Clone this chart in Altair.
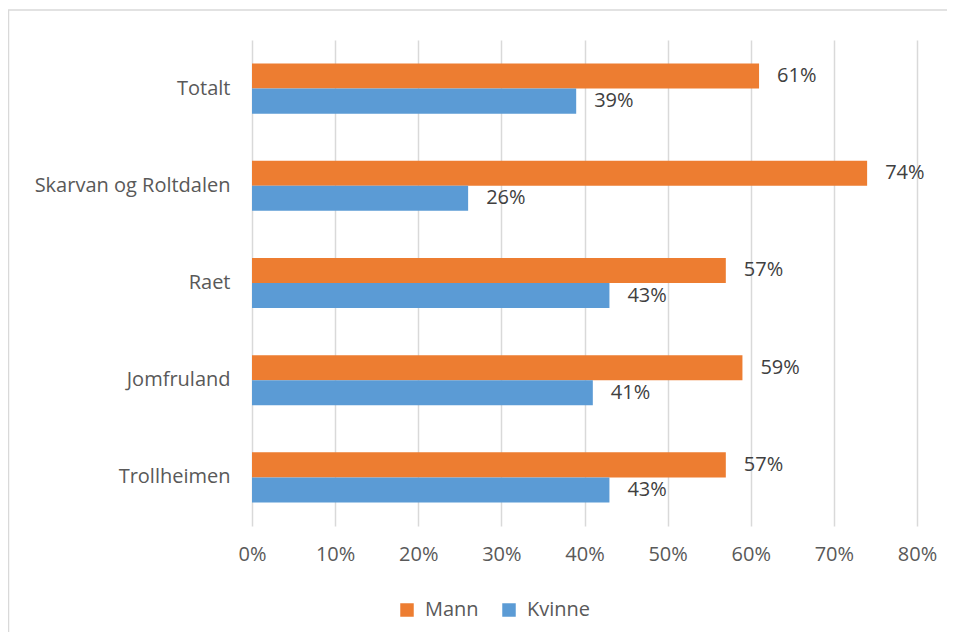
import altair as alt
import pandas as pd

categories = ["Totalt", "Skarvan og Roltdalen", "Raet", "Jomfruland", "Trollheimen"]
mann = [61, 74, 57, 59, 57]
kvinne = [39, 26, 43, 41, 43]
series = ["Mann", "Kvinne"]
colors = ["#ED7D31", "#5B9BD5"]

rows = []
for c, m, k in zip(categories, mann, kvinne):
    rows.append({"kategori": c, "kjonn": "Mann", "verdi": m / 100, "label": f"{m}%"})
    rows.append({"kategori": c, "kjonn": "Kvinne", "verdi": k / 100, "label": f"{k}%"})
df = pd.DataFrame(rows)

FONT = "Open Sans"
FS = 20

y_enc = alt.Y("kategori:N", sort=categories, title=None,
              scale=alt.Scale(paddingInner=0.485, paddingOuter=0.2425),
              axis=alt.Axis(domain=False, ticks=False, labelFont=FONT, labelFontSize=FS,
                            labelColor="#595959", labelPadding=22, grid=False,
                            labelLimit=400))
x_enc = alt.X("verdi:Q", title=None,
              scale=alt.Scale(domain=[0, 0.8], nice=False),
              axis=alt.Axis(format=".0%", values=[0, .1, .2, .3, .4, .5, .6, .7, .8],
                            domain=False, ticks=False, labelFont=FONT, labelFontSize=FS,
                            labelColor="#595959", labelPadding=18,
                            labelFlush=False, labelOverlap=False,
                            gridColor="#d9d9d9", gridWidth=1.5))
yoff = alt.YOffset("kjonn:N", sort=series)

dummy = pd.DataFrame({"a": [0]})
top_line = alt.Chart(dummy).mark_rule(stroke="#d9d9d9", strokeWidth=1.5).encode(
    x=alt.value(-244), x2=alt.value(700), y=alt.value(-30))
left_line = alt.Chart(dummy).mark_rule(stroke="#d9d9d9", strokeWidth=1.5).encode(
    x=alt.value(-243.5), y=alt.value(-30), y2=alt.value(600))

bars = alt.Chart(df).mark_bar().encode(
    y=y_enc, x=x_enc, yOffset=yoff,
    color=alt.Color("kjonn:N", sort=series, scale=alt.Scale(domain=series, range=colors),
                    legend=alt.Legend(title=None, orient="none", direction="horizontal",
                                      legendX=145, legendY=560, symbolType="square",
                                      symbolSize=182, symbolStrokeWidth=0,
                                      labelOffset=8,
                                      labelFont=FONT, labelFontSize=FS, labelColor="#595959",
                                      columnPadding=20, symbolOpacity=1)))

text = alt.Chart(df).mark_text(align="left", baseline="middle", dx=18,
                               font=FONT, fontSize=FS, color="#404040").encode(
    y=alt.Y("kategori:N", sort=categories), x="verdi:Q", yOffset=yoff, text="label:N")

chart = alt.layer(top_line, left_line, bars, text).properties(
    width=665, height=486,
    autosize=alt.AutoSizeParams(type="none"),
    padding={"left": 244, "top": 32, "right": 30, "bottom": 106},
    background="white",
).configure_view(stroke=None)

chart.save("out.html", embed_options={"renderer": "svg", "actions": False})
